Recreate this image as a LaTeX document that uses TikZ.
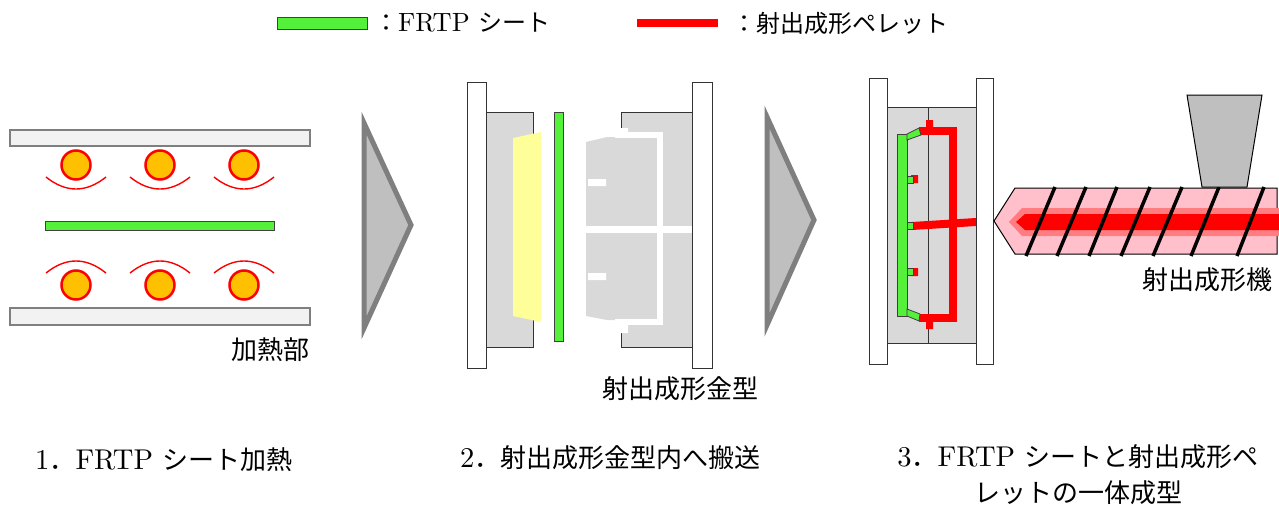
\documentclass[tikz,border=0pt]{standalone}
\usepackage{fontspec}
\setmainfont{lmroman10-regular}[Extension=.otf, Scale=1.1]
\newfontfamily\cjk{Noto Sans CJK JP}
\usetikzlibrary{positioning}

\definecolor{sheetgreen}{RGB}{84,240,58}
\definecolor{pelletred}{RGB}{255,0,0}
\definecolor{heatorange}{RGB}{255,192,0}
\definecolor{platefill}{RGB}{242,242,242}
\definecolor{edgegray}{RGB}{127,127,127}
\definecolor{moldgray}{RGB}{217,217,217}
\definecolor{arrowgray}{RGB}{191,191,191}
\definecolor{barrelpink}{RGB}{255,192,203}
\definecolor{meltred}{RGB}{255,124,128}
\definecolor{insertyellow}{RGB}{255,255,153}

\newcommand{\lblfont}{\fontsize{26}{36}\selectfont}
\newcommand{\legfont}{\fontsize{24}{30}\selectfont}

\begin{document}
\begin{tikzpicture}[x=1pt, y=-1pt,
    plate/.style={fill=platefill, draw=edgegray, line width=2},
    heater/.style={fill=heatorange, draw=pelletred, line width=2.5},
    glow/.style={draw=pelletred, line width=1.4},
    sheet/.style={fill=sheetgreen, draw=black!75, line width=0.8},
    platen/.style={fill=white, draw=black!80, line width=1},
    mold/.style={fill=moldgray, draw=black!80, line width=1},
    runner/.style={draw=pelletred, line width=8},
    gap/.style={draw=white, line width=6},
    stagearrow/.style={fill=arrowgray, draw=edgegray, line width=5, line join=miter},
    flight/.style={draw=black, line width=3.5},
    txt/.style={inner sep=0pt, font=\lblfont},
  ]
  \useasboundingbox (0,0) rectangle (1279,506);

  % legend
  \draw[sheet] (277,17) rectangle (367,29);
  \node[txt, font=\legfont, anchor=west] (legsheet) at (374,23) {{\cjk ：}FRTP {\cjk シート}};
  \draw[pelletred, line width=8] (637,23) -- (718,23);
  \node[txt, font=\legfont, anchor=west] (legpellet) at (732,23) {\cjk ：射出成形ペレット};

  % 1: heating zone
  \draw[plate] (10,130) rectangle (310,146);
  \draw[plate] (10,308) rectangle (310,325);
  \foreach \x in {76,160,244}{
    \draw[heater] (\x,165) circle [radius=14.5];
    \draw[glow] (\x-30,177) .. controls (\x-10,193) and (\x+10,193) .. (\x+30,177);
    \draw[heater] (\x,285) circle [radius=14.5];
    \draw[glow] (\x-30,273) .. controls (\x-10,257) and (\x+10,257) .. (\x+30,273);
  }
  \draw[sheet] (45,221) rectangle (274,230);
  \node[txt, anchor=east] (heatzone) at (310,350) {\cjk 加熱部};

  \draw[stagearrow] (364,123) -- (411,225) -- (364,328) -- cycle;

  % 2: open mold, sheet placed between halves
  \draw[platen] (467,82) rectangle (486,368);
  \draw[mold] (486,112) rectangle (533,347);
  \fill[insertyellow] (513,138) -- (541,132) -- (541,322) -- (513,316) -- cycle;
  \draw[sheet] (554,112) rectangle (563,341);
  \fill[moldgray] (621,112) rectangle (692,347);
  \draw[black!80, line width=1] (692,112) -- (621,112) -- (621,347) -- (692,347);
  \fill[moldgray] (586,142) -- (607,137) -- (660,137) -- (660,320) -- (607,320) -- (586,316) -- cycle;
  \draw[gap] (615,135) -- (660,135) -- (660,322) -- (615,322);
  \fill[white] (619,128) rectangle (628,137) (619,322) rectangle (628,333);
  \draw[gap, line width=7] (586,229) -- (692,229);
  \fill[white] (588,179) rectangle (606,186) (588,273) rectangle (606,280);
  \draw[platen] (692,82) rectangle (712,368);
  \node[txt] (moldlabel) at (680,389) {\cjk 射出成形金型};

  \draw[stagearrow] (767,117) -- (814,220) -- (767,325) -- cycle;

  % 3: closed mold, sheet and runner
  \draw[platen] (869,78) rectangle (887,364);
  \draw[mold] (887,107) rectangle (976,343);
  \draw[black!80, line width=1] (928,107) -- (928,343);
  \draw[platen] (976,78) rectangle (993,364);
  \draw[runner] (919,131) -- (953,131) -- (953,318) -- (919,318);
  \fill[pelletred] (926,120) rectangle (933,131) (926,318) rectangle (933,329);
  \draw[runner] (912,226) -- (976,222);
  \fill[pelletred] (911,175) rectangle (918,183) (911,268) rectangle (918,276);
  \draw[sheet] (897,134) rectangle (907,316);
  \draw[sheet] (907,134) -- (919,128) -- (921,135) -- (907,140) -- cycle;
  \draw[sheet] (907,309) -- (920,314) -- (919,321) -- (907,316) -- cycle;
  \foreach \y in {176,222,268}
    \draw[sheet] (907,\y) rectangle (913,\y+7);

  % injection unit
  \draw[black, fill=barrelpink, line width=1] (994,221) -- (1015,188) -- (1277,188) -- (1277,254) -- (1015,254) -- cycle;
  \fill[meltred] (1009,222) -- (1022,208) -- (1279,208) -- (1279,236) -- (1022,236) -- cycle;
  \fill[pelletred] (1016,222) -- (1025,214) -- (1279,214) -- (1279,230) -- (1025,230) -- cycle;
  \foreach \b/\t in {1026/1055,1057/1086,1089/1117,1121/1150,1153/1182,1191/1219,1237/1264}
    \draw[flight] (\b,256) -- (\t,187);
  \draw[black, fill=arrowgray, line width=1] (1187,95) -- (1262,95) -- (1247,187) -- (1202,187) -- cycle;
  \node[txt, anchor=east] (machinelabel) at (1273,280) {\cjk 射出成形機};

  % step captions
  \node[txt, anchor=west] (step1) at (35,460) {1{\cjk ．}FRTP {\cjk シート加熱}};
  \node[txt, anchor=west] (step2) at (460,458) {2{\cjk ．射出成形金型内へ搬送}};
  \node[txt, align=center] (step3) at (1078,475) {3{\cjk ．}FRTP {\cjk シートと射出成形ペ}\\{\cjk レットの一体成型}};
\end{tikzpicture}
\end{document}
